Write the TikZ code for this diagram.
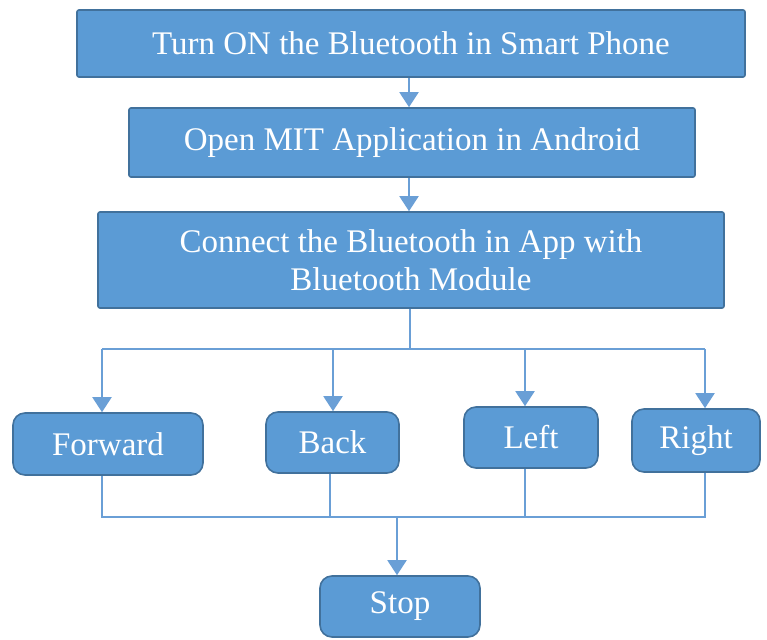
\documentclass[tikz,border=0pt]{standalone}
\usepackage{fontspec}
\setmainfont{Liberation Serif}
\usetikzlibrary{arrows.meta,positioning}
\definecolor{flowfill}{HTML}{5B9BD5}
\definecolor{flowedge}{HTML}{41719C}
\definecolor{flowline}{HTML}{6A9FD6}
\tikzset{
  stepbox/.style={rectangle,rounded corners=2pt,draw=flowedge,fill=flowfill,
                  line width=1.6pt,text=white,inner sep=0pt,align=center,
                  font=\fontsize{33}{38}\selectfont},
  movebox/.style={stepbox,rounded corners=12pt},
  arr/.style={-{Triangle[length=15pt,width=19pt]},line width=2pt,flowline},
  bus/.style={line width=2pt,flowline},
}
\begin{document}
\begin{tikzpicture}[x=1pt,y=-1pt]
  \useasboundingbox (0,0) rectangle (767,639);

  % main steps
  \node[stepbox,minimum width=668pt,minimum height=67pt] (turnon) at (411,43.5)
       {Turn ON the Bluetooth in Smart Phone};
  \node[stepbox,minimum width=566pt,minimum height=69pt] (openapp) at (412,142.5)
       {Open MIT Application in Android};
  \node[stepbox,minimum width=626pt,minimum height=96pt] (connect) at (411,260)
       {Connect the Bluetooth in App with\\Bluetooth Module};

  % directions
  \node[movebox,minimum width=190pt,minimum height=62pt] (fwd) at (108,444) {Forward};
  \node[movebox,minimum width=133pt,minimum height=61pt] (back) at (332.5,442.5) {Back};
  \node[movebox,minimum width=134pt,minimum height=61pt] (left) at (531,437.5) {Left};
  \node[movebox,minimum width=128pt,minimum height=63pt] (right) at (696,440.5) {Right};
  \node[movebox,minimum width=160pt,minimum height=61pt] (stop) at (400,606.5) {Stop};

  \draw[arr] (turnon.south -| 409,0) -- (openapp.north -| 409,0);
  \draw[arr] (openapp.south -| 409,0) -- (connect.north -| 409,0);

  % split bus
  \coordinate (split) at (410,349);
  \coordinate (t1) at (102,349);
  \coordinate (t2) at (333,349);
  \coordinate (t3) at (525,349);
  \coordinate (t4) at (705,349);
  \draw[bus] (connect.south -| split) -- (split);
  \draw[bus] (t1) -- (t4);
  \draw[arr] (t1) -- (t1 |- fwd.north);
  \draw[arr] (t2) -- (t2 |- back.north);
  \draw[arr] (t3) -- (t3 |- left.north);
  \draw[arr] (t4) -- (t4 |- right.north);

  % join bus
  \coordinate (b1) at (102,517);
  \coordinate (b2) at (330,517);
  \coordinate (b3) at (525,517);
  \coordinate (b4) at (705,517);
  \coordinate (join) at (397,517);
  \draw[bus] (b1 |- fwd.south) -- (b1) -- (b4) -- (b4 |- right.south);
  \draw[bus] (b2 |- back.south) -- (b2);
  \draw[bus] (b3 |- left.south) -- (b3);
  \draw[arr] (join) -- (join |- stop.north);
\end{tikzpicture}
\end{document}
